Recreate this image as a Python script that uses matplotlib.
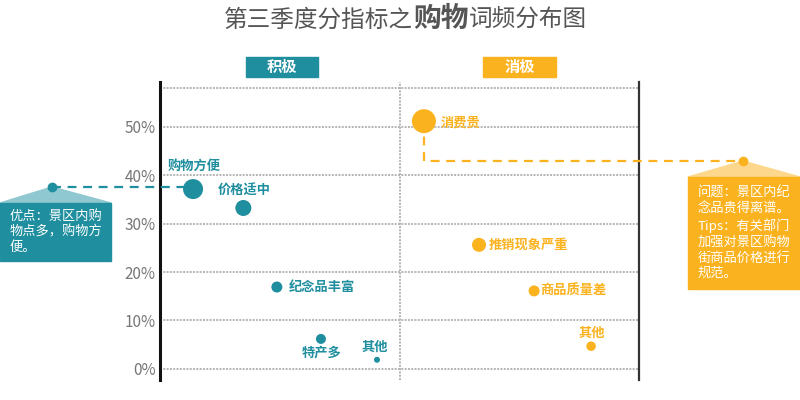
import matplotlib.pyplot as plt
from matplotlib.patches import Rectangle, Polygon
from matplotlib.lines import Line2D

plt.rcParams["font.family"] = ["Noto Sans CJK SC", "DejaVu Sans"]

# data: share of mentions (%) per keyword, horizontal spread within each half
pos_labels = ["购物方便", "价格适中", "纪念品丰富", "特产多", "其他"]
pos_x = [6.9, 17.4, 24.4, 33.6, 45.3]
pos_y = [37.1, 33.2, 16.9, 6.2, 1.9]

neg_labels = ["消费贵", "推销现象严重", "商品质量差", "其他"]
neg_x = [55.1, 66.6, 78.1, 90.0]
neg_y = [51.1, 25.6, 16.1, 4.7]

y_ticks = [0, 10, 20, 30, 40, 50]
y_ticklabels = ["0%", "10%", "20%", "30%", "40%", "50%"]

pos_note = "优点：景区内购\n物点多，购物方\n便。"
neg_note = "问题：景区内纪\n念品贵得离谱。\nTips：有关部门\n加强对景区购物\n街商品价格进行\n规范。"

# styles
teal = "#1f8e9e"
teal_light = "#8fc8d0"
orange = "#fbb21f"
orange_light = "#fdd88c"
grid_kw = dict(linestyle=(0, (1, 0.7)), color="#b4b4b4", linewidth=1.4)
pos_dot_px = [20, 16, 11, 10, 6]
neg_dot_px = [24, 14, 11, 9.5]
pos_offsets = [(-25, 23, "left"), (-26, 17, "left"), (12, 0, "left"), (1, -14, "center"), (-2, 13, "center")]
neg_offsets = [(17, -1, "left"), (10, 0, "left"), (6, 0, "left"), (1, 13, "center")]

W, H = 800, 400
fig = plt.figure(figsize=(8, 4), dpi=100)


def fx(x):
    return x / W


def fy(y):
    return 1 - y / H


ax = fig.add_axes([fx(160), fy(380), 479 / W, 298 / H])
ax.set_xlim(0, 100)
ax.set_ylim(-2.27, 59.18)

# grid and frame
ax.set_yticks(y_ticks)
ax.set_yticklabels(y_ticklabels)
ax.set_xticks([])
ax.yaxis.grid(True, **grid_kw)
ax.axhline(58, **grid_kw)
ax.axvline(50, **grid_kw)
ax.set_axisbelow(True)
ax.tick_params(axis="y", length=0, pad=3, labelsize=11, labelcolor="#777777")
for s in ["top", "bottom"]:
    ax.spines[s].set_visible(False)
ax.spines["left"].set_color("#111111")
ax.spines["left"].set_linewidth(2.2)
ax.spines["right"].set_color("#333333")
ax.spines["right"].set_linewidth(1.6)


def draw_group(xs, ys, labels, dots, offs, color):
    sizes = [(d * 0.72) ** 2 for d in dots]
    ax.scatter(xs, ys, s=sizes, color=color, linewidths=0, zorder=4, clip_on=False)
    for x, y, lab, (dx, dy, ha) in zip(xs, ys, labels, offs):
        ax.annotate(lab, (x, y), xytext=(dx, dy), textcoords="offset pixels",
                    ha=ha, va="center", fontsize=9.5, color=color, fontweight="bold")


draw_group(pos_x, pos_y, pos_labels, pos_dot_px, pos_offsets, teal)
draw_group(neg_x, neg_y, neg_labels, neg_dot_px, neg_offsets, orange)

# title
fig.text(fx(413), fy(27), "第三季度分指标之", ha="right", va="baseline",
         fontsize=17, color="#555555")
fig.text(fx(441), fy(27), "购物", ha="center", va="baseline",
         fontsize=20, color="#555555", fontweight="bold")
fig.text(fx(469), fy(27), "词频分布图", ha="left", va="baseline",
         fontsize=17, color="#555555")

# header boxes
for x0, x1, txt, col in [(246, 318, "积极", teal), (483, 556, "消极", orange)]:
    fig.add_artist(Rectangle((fx(x0), fy(77)), (x1 - x0) / W, 20 / H,
                             transform=fig.transFigure, color=col, zorder=1))
    fig.text(fx((x0 + x1) / 2), fy(67), txt, ha="center", va="center",
             fontsize=11, color="white", fontweight="bold")


def to_fig_px(x, y):
    px, py = ax.transData.transform((x, y))
    return px * W / fig.bbox.width, H - py * H / fig.bbox.height


# left callout
p0x, p0y = to_fig_px(pos_x[0], pos_y[0])
fig.add_artist(Line2D([fx(52), fx(p0x)], [fy(187), fy(187)], transform=fig.transFigure,
                      color=teal, linestyle=(0, (4, 3)), linewidth=1.6, zorder=2))
fig.add_artist(Polygon([(fx(0), fy(203)), (fx(52), fy(187)), (fx(111), fy(203))],
                       closed=True, transform=fig.transFigure, color=teal_light, zorder=1))
fig.add_artist(Rectangle((fx(0), fy(261)), 111 / W, 58 / H,
                         transform=fig.transFigure, color=teal, zorder=1))
fig.add_artist(Line2D([fx(52)], [fy(187)], marker="o", markersize=6, color=teal,
                      transform=fig.transFigure, zorder=3))
fig.text(fx(10), fy(210), pos_note, ha="left", va="top", fontsize=9.5,
         color="white", linespacing=1.25)

# right callout
p1x, p1y = to_fig_px(neg_x[0], neg_y[0])
fig.add_artist(Line2D([fx(p1x), fx(p1x), fx(743)], [fy(p1y), fy(161), fy(161)],
                      transform=fig.transFigure, color=orange, linestyle=(0, (4, 3)),
                      linewidth=1.6, zorder=2))
fig.add_artist(Polygon([(fx(688), fy(177)), (fx(743), fy(161)), (fx(800), fy(177))],
                       closed=True, transform=fig.transFigure, color=orange_light, zorder=1))
fig.add_artist(Rectangle((fx(688), fy(289)), 112 / W, 112 / H,
                         transform=fig.transFigure, color=orange, zorder=1))
fig.add_artist(Line2D([fx(743)], [fy(161)], marker="o", markersize=6, color=orange,
                      transform=fig.transFigure, zorder=3))
fig.text(fx(698), fy(187), neg_note, ha="left", va="top", fontsize=9.5,
         color="white", linespacing=1.25)

fig.savefig("out.png", dpi=100, facecolor="white")
